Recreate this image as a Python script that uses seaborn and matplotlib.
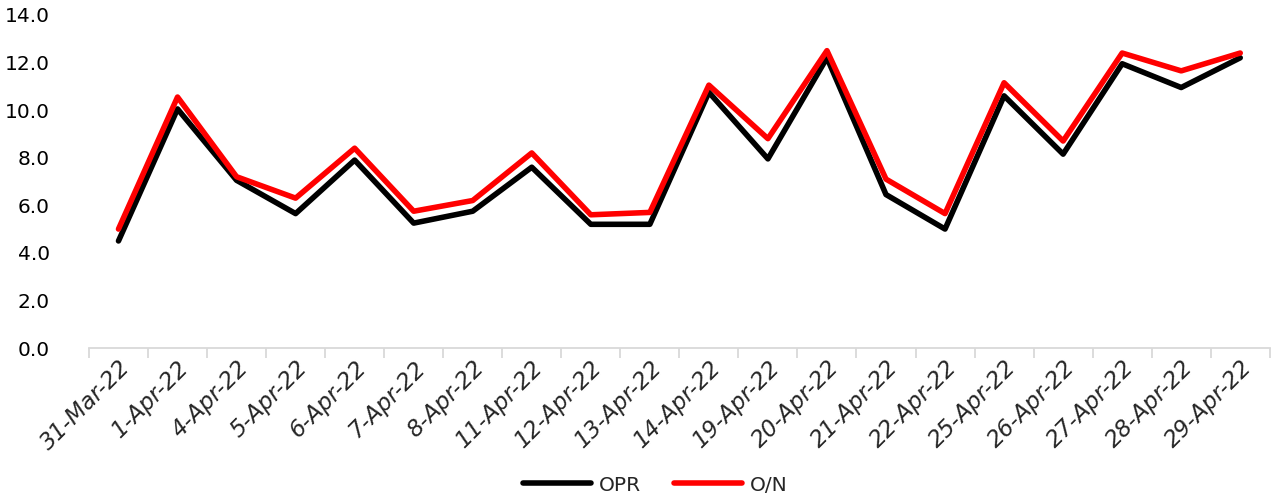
import numpy as np
import pandas as pd
import matplotlib
matplotlib.use("Agg")
import matplotlib.pyplot as plt
from matplotlib.ticker import FixedLocator, FormatStrFormatter
import seaborn as sns

dates = ["31-Mar-22", "1-Apr-22", "4-Apr-22", "5-Apr-22", "6-Apr-22", "7-Apr-22",
         "8-Apr-22", "11-Apr-22", "12-Apr-22", "13-Apr-22", "14-Apr-22", "19-Apr-22",
         "20-Apr-22", "21-Apr-22", "22-Apr-22", "25-Apr-22", "26-Apr-22", "27-Apr-22",
         "28-Apr-22", "29-Apr-22"]
opr = [4.5, 10.05, 7.05, 5.65, 7.9, 5.25, 5.75, 7.6, 5.2, 5.2,
       10.75, 7.95, 12.2, 6.45, 5.0, 10.6, 8.15, 11.95, 10.95, 12.2]
on = [5.0, 10.55, 7.2, 6.3, 8.4, 5.75, 6.2, 8.2, 5.6, 5.7,
      11.05, 8.8, 12.5, 7.1, 5.65, 11.15, 8.7, 12.4, 11.65, 12.4]
series_names = ["OPR", "O/N"]
colors = ["#000000", "#ff0000"]

df = pd.concat([
    pd.DataFrame({"pos": np.arange(len(dates)), "date": dates, "rate": opr, "series": "OPR"}),
    pd.DataFrame({"pos": np.arange(len(dates)), "date": dates, "rate": on, "series": "O/N"}),
], ignore_index=True)

sns.set_theme(style="white")
plt.rcParams["font.family"] = ["DejaVu Sans"]

fig = plt.figure(figsize=(12.8, 4.99), dpi=100)
ax = fig.add_axes([0.0695, 0.3026, 0.9225, 0.6674])

sns.lineplot(data=df, x="pos", y="rate", hue="series", hue_order=series_names,
             palette=colors, linewidth=4.0, ax=ax, legend=True)

n = len(dates)
ax.set_xlim(-0.5, n - 0.5)
ax.set_ylim(0, 14)
ax.set_yticks(np.arange(0, 14.1, 2))
ax.yaxis.set_major_formatter(FormatStrFormatter("%.1f"))
ax.tick_params(axis="y", length=0, pad=28, labelsize=14.5, labelcolor="#000000")

# category boundaries carry the tick marks, centres carry the labels
ax.xaxis.set_major_locator(FixedLocator(np.arange(-0.5, n, 1.0)))
ax.xaxis.set_minor_locator(FixedLocator(np.arange(n)))
ax.set_xticklabels([], minor=False)
ax.set_xticklabels(dates, minor=True)
ax.tick_params(axis="x", which="major", bottom=True, length=7, width=1.3,
               color="#d9d9d9", direction="out")
ax.tick_params(axis="x", which="minor", bottom=True, length=0, pad=6, labelsize=16.5)
for lbl in ax.get_xticklabels(minor=True):
    lbl.set_rotation(45)
    lbl.set_ha("right")
    lbl.set_va("top")
    lbl.set_rotation_mode("anchor")
    lbl.set_style("italic")

ax.set_xlabel("")
ax.set_ylabel("")
for side in ["left", "right", "top"]:
    ax.spines[side].set_visible(False)
ax.spines["bottom"].set_color("#d9d9d9")
ax.spines["bottom"].set_linewidth(1.3)
ax.grid(False)

handles, labels = ax.get_legend_handles_labels()
ax.legend(handles, labels, loc="center", bbox_to_anchor=(0.512, 0.028),
          bbox_transform=fig.transFigure, ncol=2, frameon=False,
          fontsize=14.5, handlelength=3.4, handletextpad=0.4, columnspacing=1.6)

fig.savefig("out.png", dpi=100, facecolor="white")
